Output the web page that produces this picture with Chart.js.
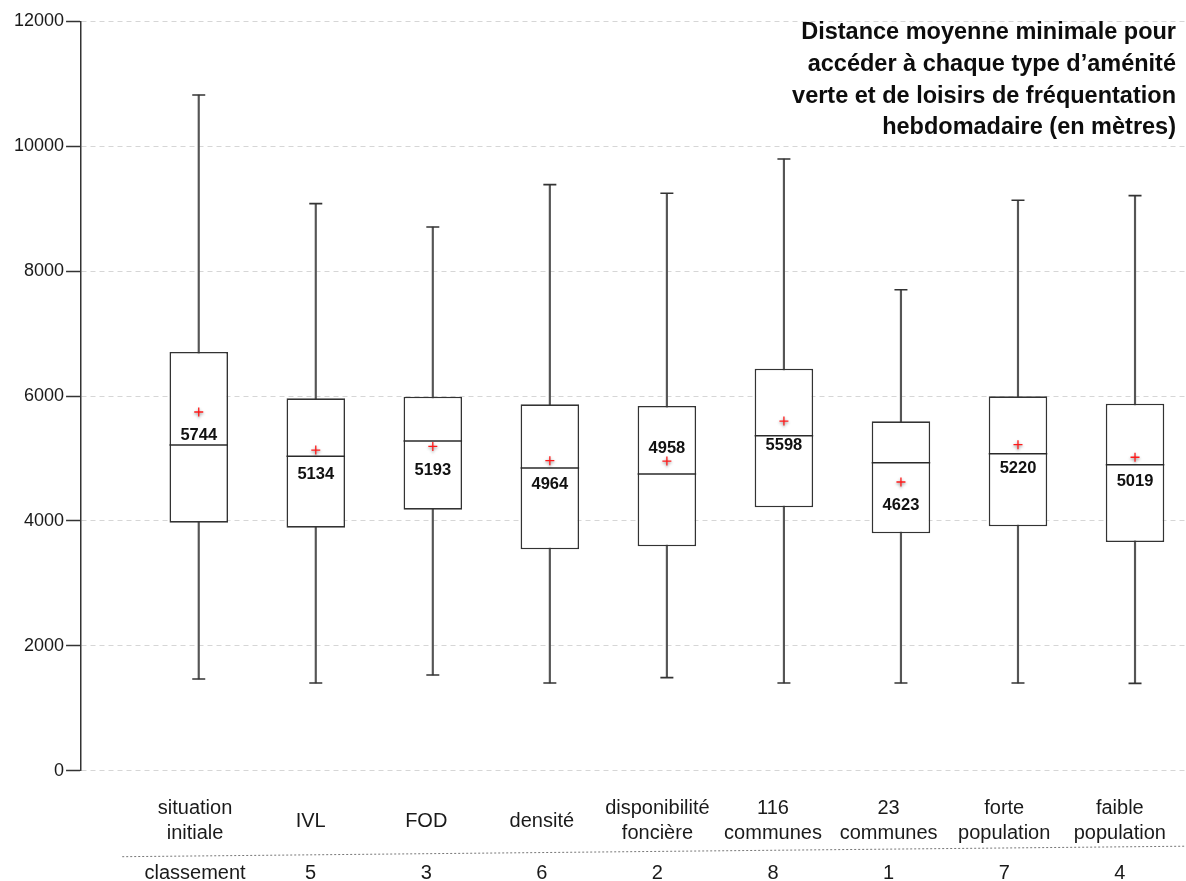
<!DOCTYPE html>
<html>
<head>
<meta charset="utf-8">
<script src="https://cdn.jsdelivr.net/npm/chart.js@4.4.1/dist/chart.umd.min.js"></script>
<style>
  html, body { margin: 0; padding: 0; background: #ffffff; overflow: hidden; }
  #wrap { position: relative; width: 1186px; height: 881px; }
</style>
</head>
<body>
<div id="wrap"><canvas id="c"></canvas></div>
<script>
// ---------- data ----------
const categories = [
  ['situation', 'initiale'], ['IVL'], ['FOD'], ['densité'],
  ['disponibilité', 'foncière'], ['116', 'communes'], ['23', 'communes'],
  ['forte', 'population'], ['faible', 'population']
];
const rankRow = ['classement', '5', '3', '6', '2', '8', '1', '7', '4'];

const whiskerLow  = [1469, 1404, 1532, 1404, 1490, 1404, 1404, 1404, 1399];
const quartile1   = [3971, 3891, 4180, 3545, 3593, 4218, 3801, 3913, 3662];
const medians     = [5215, 5034, 5279, 4847, 4751, 5365, 4932, 5076, 4900];
const quartile3   = [6705, 5963, 5989, 5867, 5840, 6437, 5595, 5995, 5877];
const whiskerHigh = [10820, 9080, 8706, 9384, 9246, 9795, 7702, 9134, 9208];
const means       = [5744, 5134, 5193, 4964, 4958, 5598, 4623, 5220, 5019];
const meanLabelPlacement = ['below', 'below', 'below', 'below', 'above', 'below', 'below', 'below', 'below'];

const yTickValues = [0, 2000, 4000, 6000, 8000, 10000, 12000];

const titleLines = [
  'Distance moyenne minimale pour',
  'accéder à chaque type d’aménité',
  'verte et de loisirs de fréquentation',
  'hebdomadaire (en mètres)'
];

// ---------- helpers ----------
const FONT = '"Liberation Sans", Arial, Helvetica, sans-serif';
const idx = categories.map((_, i) => i);
const halfBox = (ctx) => {
  const s = ctx.chart.scales.x;
  if (!s) return 0;
  return Math.abs(s.getPixelForValue(0.25) - s.getPixelForValue(0));
};

const overlay = {
  id: 'overlay',
  beforeDatasetDraw(chart, args) {
    if (chart.data.datasets[args.index].label === 'moyenne') {
      const c = chart.ctx;
      c.save();
      c.shadowColor = 'rgba(0,0,0,0.45)';
      c.shadowBlur = 3;
      c.shadowOffsetY = 1.5;
    }
  },
  afterDatasetDraw(chart, args) {
    if (chart.data.datasets[args.index].label === 'moyenne') chart.ctx.restore();
  },
  afterDraw(chart) {
    const c = chart.ctx;
    const xs = chart.scales.x, ys = chart.scales.y, xl = chart.scales.xl;
    const area = chart.chartArea;
    c.save();

    // mean value labels
    c.fillStyle = '#111';
    c.textAlign = 'center';
    c.textBaseline = 'alphabetic';
    c.font = 'bold 16.5px ' + FONT;
    means.forEach((m, i) => {
      const px = xs.getPixelForValue(i);
      const py = ys.getPixelForValue(m);
      const by = meanLabelPlacement[i] === 'above' ? py - 8.5 : py + 28.5;
      c.fillText(String(m), px, by);
    });

    // title (top-right)
    c.font = 'bold 23.5px ' + FONT;
    c.textAlign = 'right';
    c.fillStyle = '#0d0d0d';
    titleLines.forEach((t, k) => c.fillText(t, area.right - 10, area.top + 18 + k * 31.7));

    // category labels
    c.font = '20px ' + FONT;
    c.textAlign = 'center';
    c.fillStyle = '#1a1a1a';
    const row1 = area.bottom + 43.5;
    const lh = 25;
    categories.forEach((lines, i) => {
      const px = xl.getPixelForValue(i);
      if (lines.length === 1) {
        c.fillText(lines[0], px, row1 + lh / 2);
      } else {
        lines.forEach((t, k) => c.fillText(t, px, row1 + k * lh));
      }
    });

    // dotted separator
    c.strokeStyle = '#777';
    c.lineWidth = 1;
    c.setLineDash([2, 2]);
    c.beginPath();
    c.moveTo(xl.getPixelForValue(-0.63), area.bottom + 86);
    c.lineTo(area.right, area.bottom + 75.5);
    c.stroke();
    c.setLineDash([]);

    // ranking row
    rankRow.forEach((t, i) => c.fillText(t, xl.getPixelForValue(i), area.bottom + 108.5));

    c.restore();
  }
};

new Chart(document.getElementById('c'), {
  type: 'bar',
  data: {
    datasets: [
      {
        type: 'bar', label: 'moustaches', order: 4, grouped: false,
        data: idx.map(i => ({ x: i, y: [whiskerLow[i], whiskerHigh[i]] })),
        backgroundColor: '#555', borderWidth: 0, barThickness: 1.5
      },
      {
        type: 'scatter', label: 'extrémités', order: 3,
        data: idx.flatMap(i => [{ x: i, y: whiskerLow[i] }, { x: i, y: whiskerHigh[i] }]),
        pointStyle: 'line', radius: 6.5, borderWidth: 1.6, borderColor: '#333', showLine: false
      },
      {
        type: 'bar', label: 'boîtes', order: 2, grouped: false,
        data: idx.map(i => ({ x: i, y: [quartile1[i], quartile3[i]] })),
        backgroundColor: '#ffffff', borderColor: '#333', borderWidth: 1.6, borderSkipped: false,
        barPercentage: 0.5, categoryPercentage: 1.0
      },
      {
        type: 'scatter', label: 'médiane', order: 1,
        data: idx.map(i => ({ x: i, y: medians[i] })),
        pointStyle: 'line', radius: halfBox, borderWidth: 1.5, borderColor: '#2a2a2a', showLine: false
      },
      {
        type: 'scatter', label: 'moyenne', order: 0,
        data: idx.map(i => ({ x: i, y: means[i] })),
        pointStyle: 'cross', radius: 4.5, borderWidth: 1.3, borderColor: '#ff1a1a', showLine: false
      }
    ]
  },
  options: {
    responsive: true,
    maintainAspectRatio: false,
    animation: false,
    events: [],
    layout: { autoPadding: false, padding: { left: 12, top: 21.3, right: 0, bottom: 110.3 } },
    plugins: { legend: { display: false }, tooltip: { enabled: false }, title: { display: false } },
    scales: {
      x: {
        type: 'linear', display: false, offset: false,
        min: -1.0056, max: 8.4356,
        ticks: { stepSize: 1, includeBounds: false }
      },
      xl: {
        type: 'linear', axis: 'x', position: 'bottom', display: false, offset: false,
        min: -0.9862, max: 8.5727
      },
      y: {
        type: 'linear', min: 0, max: 12000,
        afterBuildTicks: (axis) => { axis.ticks = yTickValues.map(v => ({ value: v })); },
        ticks: { color: '#1a1a1a', font: { family: FONT, size: 18 }, padding: 2, callback: (v) => String(v) },
        grid: { color: '#d6d6d6', lineWidth: 1, drawTicks: true, tickLength: 15, tickColor: '#333', tickWidth: 1.5 },
        border: { display: true, color: '#333', width: 1.5, dash: [5, 4] }
      }
    }
  },
  plugins: [overlay]
});
</script>
</body>
</html>
